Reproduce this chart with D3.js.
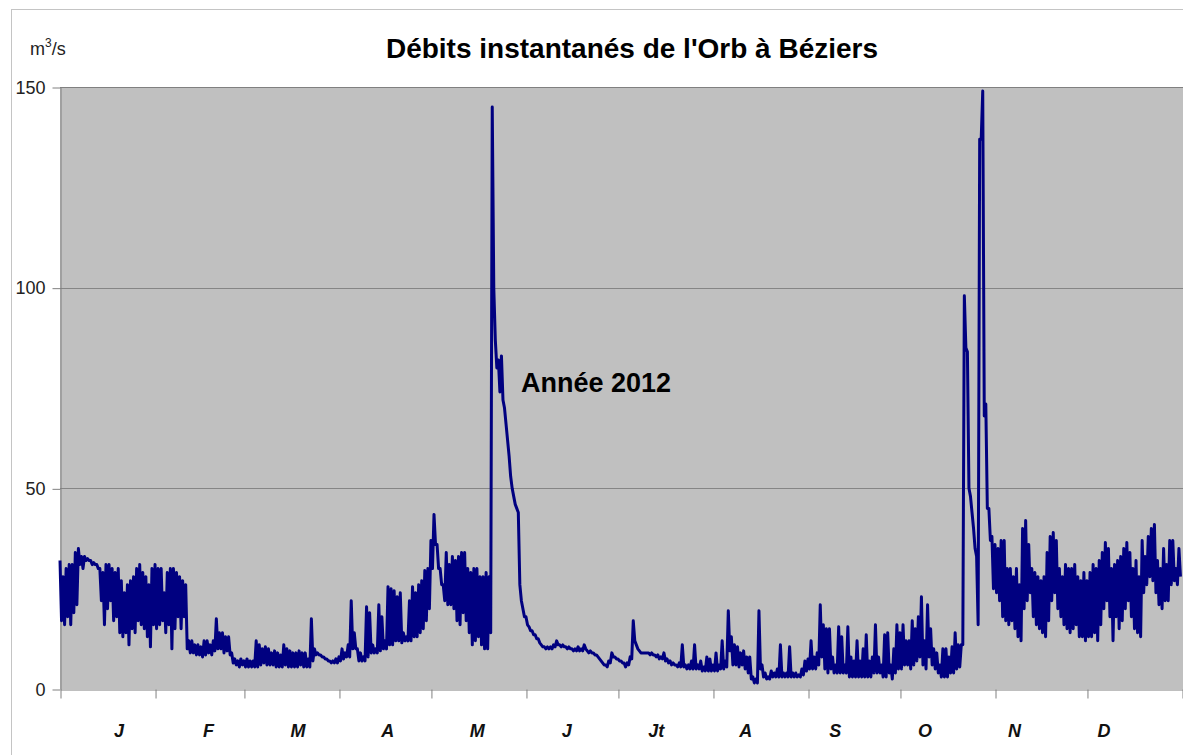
<!DOCTYPE html>
<html lang="fr">
<head>
<meta charset="utf-8">
<title>Débits instantanés de l'Orb à Béziers</title>
<script src="https://cdn.jsdelivr.net/npm/d3@7"></script>
<style>
  body { margin: 0; background: #fff; }
  svg { display: block; font-family: "Liberation Sans", Arial, sans-serif; }
  .axis path, .axis line { stroke: #808080; }
  .axis text { fill: #222; }
</style>
</head>
<body>
<svg id="chart"></svg>
<script>
// débits instantanés 2012 (m3/s): pointe puis creux de chaque jour,
// du 1er janvier au 31 décembre (une ligne par mois)
var debitsMax = [
  32, 28, 30, 31, 31, 34, 35, 33, 33, 32.5, 32, 31.5, 31, 30, 29, 31, 31, 30, 29, 30, 27, 24, 26, 27, 28, 30, 31, 29, 28, 26, 30,
  31, 30, 30, 24, 29, 30, 30, 29, 28, 27, 26, 12, 12, 11, 11, 10.5, 12, 12, 11, 12, 17.5, 14, 14, 13, 13, 9, 7.5, 7, 7.5,
  7, 7.5, 7, 7, 12, 11, 10, 10.5, 10, 9, 9.5, 9, 8.5, 11, 10, 9.5, 9, 9, 9.5, 9, 9, 7.5, 17.5, 10, 9, 8.5, 8, 7.5, 7, 7, 7.5,
  8, 10, 9, 11, 22, 14, 10, 9, 8, 20.5, 19, 11, 10, 21, 18, 12, 25.5, 25, 24.5, 23, 24, 14, 13, 22, 25.5, 24, 26, 27, 29.5, 30,
  37, 43.5, 36, 30, 26, 34, 31, 33, 32, 33, 34, 34, 30, 29, 30, 30, 28, 28, 29, 28, 145, 87, 82, 83, 70, 62, 53, 48, 45, 26, 20,
  18, 15.5, 14.5, 13.5, 12.5, 11, 10.5, 10.5, 10.5, 11, 12, 11, 11, 10.5, 10.5, 10, 10, 10.5, 10, 11, 9.5, 9.5, 9, 8.5, 7.5, 6.5, 6, 7, 9, 8,
  7.5, 7, 6.5, 6.5, 8, 17, 11, 9.5, 9, 9, 9, 9, 8.5, 8.5, 8, 9, 7.5, 7, 6.5, 6, 6.5, 11, 6, 6, 7, 11, 6, 7, 5.5, 8, 7.5,
  6, 9, 6, 12, 7, 19.5, 13, 11, 10.5, 9, 9.5, 8, 8, 3, 2.5, 19.5, 6, 4, 3, 4.5, 4, 5, 11, 4, 4, 10.5, 4, 4, 3.5, 5, 7,
  7.5, 12, 8, 9, 21, 16, 15, 15, 8, 6, 15.5, 13, 6, 15.5, 8, 7, 12, 7, 10, 13.5, 7, 8, 16, 8, 6, 13.5, 14, 6, 10, 16,
  14, 16, 12, 12, 17, 15, 18, 23, 12, 21, 15, 10, 9, 6, 10, 10, 8, 10.5, 14, 11, 11, 98, 84, 48, 40, 33, 137, 149, 71, 45, 38,
  36, 35, 37, 37, 30, 30, 28, 30, 26, 40, 42, 36, 30, 29, 28, 27, 28, 34, 38, 39, 37, 30, 28, 31, 30, 30, 31, 28, 27, 29,
  27, 29, 31, 30, 32, 34, 36.5, 35, 30, 31, 32, 33, 35, 36.5, 34, 30, 32, 28, 37, 33, 38, 40, 41, 32, 30, 35, 31, 37, 37, 30, 35
];

var debitsMin = [
  17, 16, 18, 16, 19, 21, 31, 30, 32, 32, 31, 31, 30, 22, 16, 20, 22, 17, 18, 14, 13, 14, 11, 15, 14, 17, 16, 15, 13, 10.5, 16,
  15, 16, 17, 14, 16, 10, 15, 18, 15, 18, 10, 9, 9, 8.5, 8.5, 8, 8.5, 9, 8.5, 9.5, 10, 10, 9, 9.5, 8.5, 6.5, 6, 5.5, 6,
  5.5, 5.5, 5.5, 5.5, 5.5, 6, 6.5, 6, 6, 6, 5.5, 5.5, 5.5, 6, 5.5, 5.5, 5.5, 5.5, 6, 5.5, 5.5, 5.5, 7, 8.5, 8.5, 8, 7.5, 7, 6.5, 6.5, 6.5,
  7, 7.5, 8, 8, 10, 10, 7, 7, 7, 8, 9, 9, 9, 9.5, 10, 10, 11, 11, 12, 12, 11.5, 12, 12, 12, 13, 13, 14, 15, 17, 20,
  30, 36, 30, 26, 22, 21, 21, 20, 17, 16, 19, 17, 14, 11, 12, 13, 11, 10, 10, 14, 100, 80, 74, 72, 66, 58, 50, 46, 44, 22, 18,
  16, 14.5, 13.5, 12.5, 11.5, 10.5, 10, 10, 10, 10.5, 11, 10.5, 10.5, 10, 10, 9.5, 9.5, 9.5, 9.5, 10, 9, 9, 8.5, 8, 7, 6, 5.5, 6.5, 8, 7.5,
  7, 6.5, 5.5, 6, 7.5, 12, 10, 9, 9, 9, 8.5, 8.5, 8, 7.5, 7.5, 7, 6.5, 6, 6, 5.5, 5.5, 5.5, 5, 5, 5, 5, 5, 4.5, 4.5, 4.5, 4.5,
  4.5, 4.5, 5, 5, 5.5, 9.5, 6, 6, 5.5, 6, 5, 4, 2.5, 1.5, 1.5, 5, 3, 2.5, 2.5, 3, 3, 3, 3, 3, 3, 3, 3, 3, 3, 3.5, 4.5,
  5, 5, 5, 6, 8, 5, 4, 5, 4, 4, 4, 4, 4, 3, 3, 3, 3, 3, 3, 3, 3, 4, 4, 4, 3, 3, 4, 2.5, 4, 5,
  5, 6, 6, 5, 6, 7, 8, 6, 5, 8, 6, 5, 4, 3, 3, 3, 4, 4, 5, 5.5, 11, 85, 50, 44, 35, 16, 137, 68, 45, 37, 25,
  24, 22, 18, 17, 16, 17, 15, 13, 12, 20, 22, 24, 18, 16, 15, 14, 13, 17, 22, 24, 20, 18, 16, 15, 14, 15, 16, 13, 13, 12,
  13, 13, 14, 12, 16, 20, 22, 18, 12, 18, 15, 17, 20, 22, 18, 15, 14, 13, 24, 26, 28, 27, 24, 21, 20, 22, 22, 26, 27, 26, 28
];

var mois = ["J", "F", "M", "A", "M", "J", "Jt", "A", "S", "O", "N", "D"];
var graduationsY = [0, 50, 100, 150];
var titre = "Débits instantanés de l'Orb à Béziers";
var annotation = "Année 2012";

var width = 1183,
    height = 755;

var margin = { left: 60, top: 87, right: 1, bottom: 66 };

var svg = d3.select("svg#chart")
  .attr("width", width)
  .attr("height", height);

var debut = new Date(Date.UTC(2012, 0, 1)),
    fin = new Date(Date.UTC(2013, 0, 1));
var jours = d3.utcDay.range(debut, fin);

// chaque jour : la pointe au debut, le creux a midi
var mesures = [];
jours.forEach(function(j, i) {
  mesures.push({ date: j, debit: debitsMax[i] });
  mesures.push({ date: d3.utcHour.offset(j, 12), debit: debitsMin[i] });
});

var x = d3.scaleUtc()
  .domain([debut, fin])
  .range([margin.left, width - margin.right]);

var y = d3.scaleLinear()
  .domain([0, 150])
  .range([height - margin.bottom, margin.top]);

// cadre exterieur du graphique
svg.append("rect")
  .attr("x", 11.5)
  .attr("y", 9.5)
  .attr("width", width + 20)
  .attr("height", height + 20)
  .attr("fill", "none")
  .attr("stroke", "#c4c4c4");

// zone de tracé grise
svg.append("rect")
  .attr("x", margin.left)
  .attr("y", margin.top)
  .attr("width", width - margin.left + 2)
  .attr("height", y(0) - margin.top)
  .attr("fill", "#c0c0c0");

// quadrillage horizontal
svg.append("g")
  .selectAll("line")
  .data(graduationsY.filter(d => d > 0))
  .enter().append("line")
  .attr("x1", margin.left)
  .attr("x2", width + 2)
  .attr("y1", d => Math.round(y(d)) + 0.5)
  .attr("y2", d => Math.round(y(d)) + 0.5)
  .attr("stroke", "#858585")
  .attr("stroke-width", 1);

// axe Y
var axeY = svg.append("g")
  .attr("class", "axis")
  .attr("transform", translate(margin.left + 0.5, 0.5))
  .call(d3.axisLeft(y).tickValues(graduationsY).tickSize(8).tickPadding(7).tickSizeOuter(0));
axeY.selectAll("text")
  .style("font-size", "18px")
  .style("font-family", "'Liberation Sans', Arial, sans-serif");

// axe X : un trait par debut de mois
svg.append("g")
  .attr("class", "axis")
  .attr("transform", translate(0.5, Math.round(y(0)) + 0.5))
  .call(d3.axisBottom(x).ticks(d3.utcMonth.every(1)).tickSize(9).tickFormat("").tickSizeOuter(0));

// libelles des mois
var xMois = d3.scalePoint()
  .domain(d3.range(mois.length))
  .range([119, 1104]);

svg.append("g")
  .selectAll("text")
  .data(mois)
  .enter().append("text")
  .attr("x", (d, i) => xMois(i))
  .attr("y", 737)
  .attr("text-anchor", "middle")
  .style("font-size", "18px")
  .style("font-weight", "bold")
  .style("font-style", "italic")
  .attr("fill", "#111")
  .text(d => d);

// courbe des debits
var ligne = d3.line()
  .x(d => x(d.date))
  .y(d => y(d.debit));

svg.append("path")
  .datum(mesures)
  .attr("d", ligne)
  .attr("fill", "none")
  .attr("stroke", "#000080")
  .attr("stroke-width", 3)
  .attr("stroke-linejoin", "round");

// bord superieur de la zone de tracé
svg.append("line")
  .attr("x1", margin.left)
  .attr("x2", width + 2)
  .attr("y1", margin.top + 0.5)
  .attr("y2", margin.top + 0.5)
  .attr("stroke", "#808080");

// titre
svg.append("text")
  .attr("x", 632)
  .attr("y", 58)
  .attr("text-anchor", "middle")
  .style("font-size", "28px")
  .style("font-weight", "bold")
  .attr("fill", "#000")
  .text(titre);

// unite
var unite = svg.append("text")
  .attr("x", 30)
  .attr("y", 55)
  .style("font-size", "18px")
  .attr("fill", "#222");
unite.append("tspan").text("m");
unite.append("tspan").attr("dy", -8).style("font-size", "12px").text("3");
unite.append("tspan").attr("dy", 8).text("/s");

// annotation
svg.append("text")
  .attr("x", 521)
  .attr("y", 392)
  .style("font-size", "27px")
  .style("font-weight", "bold")
  .attr("fill", "#000")
  .text(annotation);

/*
* returns a translate string for the transform attribute
*/
function translate(x, y) {
  return 'translate(' + String(x) + ',' + String(y) + ')';
}
</script>
</body>
</html>
